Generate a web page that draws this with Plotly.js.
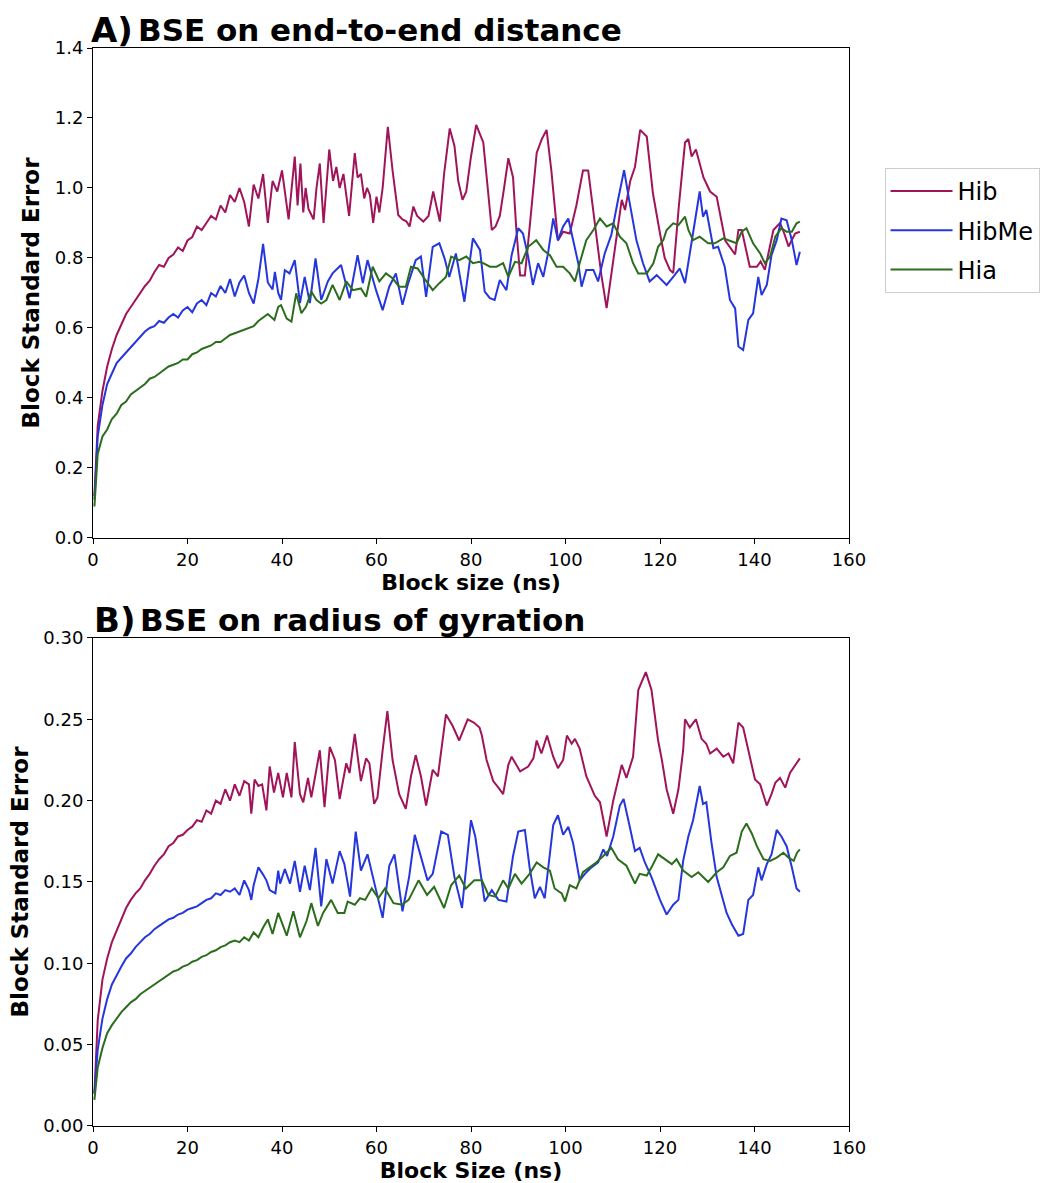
<!DOCTYPE html>
<html>
<head>
<meta charset="utf-8">
<script src="https://cdn.plot.ly/plotly-3.0.1.min.js"></script>
<style>html,body{margin:0;padding:0;background:#fff;}</style>
</head>
<body>
<div id="chart" style="width:1060px;height:1183px;"></div>
<script>
// ---- Data (block size in ns, block standard error) ----
const seriesNames = ["Hib", "HibMe", "Hia"];
const xTickVals = [0, 20, 40, 60, 80, 100, 120, 140, 160];

// Panel A: BSE on end-to-end distance
const hibA = [[0.3,0.12],[1,0.32],[2,0.42],[3,0.49],[4,0.54],[5,0.58],[6,0.61],[7,0.64],[8,0.66],[9,0.68],[10,0.70],[11,0.72],[12,0.735],[13,0.76],[14,0.78],[15,0.775],[16,0.80],[17,0.81],[18,0.83],[19,0.82],[20,0.85],[21,0.86],[22,0.89],[23,0.88],[24,0.90],[25,0.92],[26,0.91],[27,0.95],[28,0.93],[29,0.98],[30,0.96],[31,1.0],[32,0.96],[33,0.89],[34,1.01],[35,0.97],[36,1.04],[37,0.90],[38,1.02],[39,0.99],[40,1.05],[41.4,0.91],[42.7,1.09],[43.3,0.95],[43.9,1.07],[44.5,0.93],[45,1.0],[45.6,0.94],[46.7,0.91],[47.3,1.0],[48,1.07],[48.8,0.90],[50,1.11],[50.8,1.02],[51.5,1.06],[52.2,1.00],[53,1.04],[54.2,0.92],[55.4,1.10],[56,1.03],[56.7,1.04],[57.4,0.97],[58,1.0],[58.6,0.98],[59.3,0.90],[60,0.975],[60.6,0.93],[61.3,1.0],[62.4,1.175],[63.4,1.05],[64.6,0.923],[65.5,0.91],[66.3,0.905],[67,0.89],[67.8,0.947],[68.6,0.92],[69.9,0.904],[71,0.92],[72,0.99],[72.7,0.95],[73.4,0.904],[74.3,1.04],[75.5,1.17],[76.5,1.12],[77.3,1.02],[78.2,0.966],[79,0.99],[80,1.09],[81.1,1.18],[82.6,1.13],[83.5,1.0],[84.4,0.88],[85.2,0.89],[86.1,0.92],[87,1.0],[87.9,1.085],[88.9,1.03],[89.6,0.88],[90.4,0.75],[91.4,0.75],[92.5,0.9],[93.9,1.10],[95,1.14],[96,1.166],[97,1.05],[98.4,0.85],[99.5,0.875],[100.9,0.87],[102.3,0.95],[103.7,1.05],[104.8,1.05],[105.7,0.95],[106.6,0.85],[107.6,0.75],[108.7,0.657],[109.8,0.76],[110.8,0.85],[111.9,0.966],[112.6,0.937],[113.7,1.02],[114.7,1.06],[115.8,1.166],[117.2,1.147],[117.8,1.08],[118.5,0.985],[120,0.87],[121,0.80],[122.1,0.766],[122.8,0.757],[124,0.95],[125.3,1.13],[126,1.14],[126.7,1.09],[127.6,1.11],[129.2,1.03],[130.6,0.99],[132,0.975],[133.8,0.85],[135.9,0.81],[136.6,0.88],[137.3,0.88],[139,0.775],[140.5,0.775],[141.3,0.79],[142.2,0.766],[144,0.88],[145.4,0.90],[146.3,0.87],[147.2,0.833],[148.6,0.87],[149.6,0.875]];

const hibMeA = [[0.3,0.11],[1,0.29],[2,0.38],[3,0.44],[4,0.47],[5,0.50],[6,0.515],[7,0.53],[8,0.545],[9,0.56],[10,0.575],[11,0.59],[12,0.60],[13,0.605],[14,0.62],[15,0.615],[16,0.63],[17,0.64],[18,0.63],[19,0.65],[20,0.66],[21,0.645],[22,0.67],[23,0.68],[24,0.665],[25,0.70],[26,0.69],[27,0.72],[28,0.70],[29,0.74],[30,0.69],[31,0.73],[32,0.75],[33,0.70],[34,0.67],[35,0.74],[36,0.84],[37,0.73],[38,0.71],[38.5,0.76],[39.2,0.70],[39.8,0.68],[40.6,0.765],[41.6,0.756],[42.7,0.794],[43.8,0.671],[44.8,0.746],[45.9,0.671],[47.1,0.799],[48.3,0.68],[49.7,0.733],[50.7,0.756],[52.5,0.78],[54.3,0.685],[56,0.808],[57.1,0.728],[58.1,0.794],[59.9,0.708],[61.3,0.651],[62.7,0.718],[64.1,0.756],[65.5,0.666],[66.6,0.723],[68.3,0.794],[69.4,0.804],[70.5,0.689],[71.9,0.832],[73.3,0.842],[74.4,0.799],[75.4,0.746],[76.8,0.813],[78.6,0.675],[80.4,0.856],[81.9,0.823],[82.9,0.704],[84,0.685],[85,0.68],[86.1,0.737],[87.5,0.708],[88.6,0.808],[90,0.885],[91,0.87],[92.1,0.804],[93.1,0.723],[94.2,0.785],[95.3,0.746],[96.3,0.813],[97.4,0.913],[98.4,0.851],[99.5,0.89],[100.6,0.913],[101.6,0.851],[102.7,0.785],[103.4,0.718],[104.4,0.766],[105.9,0.766],[106.9,0.733],[108.3,0.813],[109.7,0.866],[111.1,0.965],[112.4,1.051],[113.6,0.956],[115,0.851],[116.4,0.785],[117.8,0.733],[119.3,0.751],[120.7,0.733],[121.4,0.723],[122.8,0.746],[124.2,0.77],[125.3,0.728],[126.7,0.851],[128.4,0.99],[129.1,0.918],[129.8,0.937],[131.3,0.828],[132.3,0.832],[133.7,0.775],[134.8,0.68],[135.9,0.656],[136.6,0.547],[137.6,0.537],[138.7,0.623],[139.7,0.642],[140.8,0.746],[141.5,0.694],[142.6,0.723],[143.6,0.808],[144.7,0.851],[145.7,0.913],[146.8,0.908],[147.9,0.851],[148.9,0.78],[149.6,0.818]];

const hiaA = [[0.3,0.09],[1,0.24],[2,0.29],[3,0.31],[4,0.34],[5,0.355],[6,0.38],[7,0.39],[8,0.41],[9,0.42],[10,0.43],[11,0.44],[12,0.455],[13,0.46],[14,0.47],[15,0.48],[16,0.49],[17,0.495],[18,0.50],[19,0.51],[20,0.51],[21,0.525],[22,0.53],[23,0.54],[24,0.545],[25,0.55],[26,0.56],[27,0.56],[28,0.57],[29,0.58],[30,0.585],[31,0.59],[32,0.595],[33,0.60],[34,0.605],[35,0.62],[36,0.63],[37,0.64],[38.4,0.623],[39.2,0.66],[39.8,0.665],[41,0.627],[42,0.618],[43,0.699],[44.1,0.642],[45.1,0.661],[46.2,0.704],[47.3,0.68],[48.3,0.67],[49.4,0.68],[50.7,0.723],[52.2,0.68],[53.6,0.733],[55,0.708],[56.7,0.713],[57.8,0.689],[59.2,0.775],[60.6,0.733],[62,0.756],[63.4,0.742],[64.8,0.718],[66.2,0.718],[67.3,0.775],[68.7,0.77],[70.1,0.742],[71.9,0.708],[73.3,0.728],[74.7,0.746],[75.8,0.804],[77.5,0.794],[79,0.804],[80.4,0.785],[81.8,0.789],[82.6,0.785],[84,0.775],[85.4,0.775],[86.8,0.785],[87.9,0.746],[89.3,0.789],[90.7,0.785],[92.1,0.832],[93.8,0.851],[95.3,0.823],[96.7,0.808],[98.1,0.775],[99.5,0.775],[100.9,0.756],[102,0.733],[103,0.785],[104.4,0.851],[105.9,0.88],[107.3,0.913],[108.7,0.89],[110.1,0.899],[111.5,0.861],[112.9,0.842],[114.3,0.785],[115.4,0.756],[117.2,0.756],[118.6,0.785],[119.6,0.832],[120.7,0.851],[121.4,0.88],[122.8,0.899],[123.9,0.894],[125.3,0.918],[126,0.88],[127,0.851],[128.4,0.861],[130.2,0.842],[131.6,0.842],[133.4,0.856],[135.2,0.847],[136.2,0.842],[137.3,0.875],[138.3,0.885],[139.7,0.842],[141.2,0.813],[142.2,0.785],[143.3,0.804],[144.4,0.861],[145.7,0.885],[146.8,0.875],[147.9,0.875],[148.9,0.899],[149.6,0.904]];

// Panel B: BSE on radius of gyration
const hibB = [[0.3,0.02],[1,0.065],[2,0.09],[3,0.103],[4,0.113],[5,0.12],[6,0.128],[7,0.134],[8,0.139],[9,0.143],[10,0.146],[11,0.151],[12,0.155],[13,0.160],[14,0.164],[15,0.167],[16,0.172],[17,0.174],[18,0.178],[19,0.179],[20,0.182],[21,0.184],[22,0.188],[23,0.187],[24,0.194],[25,0.192],[26,0.20],[27,0.198],[28,0.207],[29,0.20],[30,0.21],[31,0.203],[32,0.212],[33,0.21],[33.5,0.192],[34.2,0.213],[35,0.209],[35.8,0.21],[36.7,0.194],[37.4,0.221],[38.3,0.205],[39.2,0.217],[40.2,0.202],[41,0.217],[42,0.202],[42.7,0.236],[43.8,0.204],[44.5,0.199],[45.5,0.214],[46.2,0.202],[46.9,0.213],[48,0.231],[49,0.196],[50.1,0.233],[51.2,0.225],[52.2,0.201],[53.6,0.223],[54.3,0.217],[55.4,0.241],[56.7,0.212],[57.8,0.226],[58.5,0.223],[59.5,0.198],[60.2,0.202],[61.3,0.231],[62.3,0.255],[63.4,0.225],[64.8,0.204],[66.2,0.195],[67.3,0.215],[68.3,0.228],[69.4,0.215],[70.5,0.197],[71.9,0.219],[73,0.215],[74.7,0.253],[76.1,0.246],[77.5,0.237],[79.3,0.250],[80.6,0.248],[81.8,0.245],[82.3,0.240],[83.3,0.225],[84.7,0.212],[85.8,0.208],[86.8,0.204],[87.9,0.222],[88.6,0.227],[90.4,0.218],[92.1,0.221],[93.2,0.226],[93.9,0.237],[94.9,0.229],[96.1,0.240],[97.4,0.227],[98.4,0.220],[99.5,0.225],[100.3,0.240],[101.3,0.235],[102,0.238],[103,0.232],[104.4,0.215],[106.2,0.203],[107.3,0.199],[108.7,0.178],[110.1,0.200],[111.9,0.222],[112.9,0.214],[114.3,0.227],[115.4,0.268],[117,0.279],[118.2,0.268],[119.6,0.237],[120.4,0.225],[121.4,0.207],[122.8,0.192],[123.9,0.207],[124.9,0.231],[125.3,0.250],[126.3,0.245],[127.6,0.250],[128.8,0.238],[129.8,0.235],[130.6,0.229],[132,0.232],[133.4,0.227],[134.5,0.229],[135.5,0.223],[136.6,0.248],[137.6,0.245],[138.7,0.231],[140.1,0.213],[141.2,0.210],[142.6,0.197],[143.6,0.204],[144.4,0.211],[145.4,0.214],[146.5,0.208],[147.5,0.217],[149,0.223],[149.6,0.226]];

const hibMeB = [[0.3,0.02],[1,0.047],[2,0.066],[3,0.078],[4,0.087],[5,0.093],[6,0.098],[7,0.103],[8,0.106],[9,0.110],[10,0.113],[11,0.116],[12,0.118],[13,0.121],[14,0.123],[15,0.125],[16,0.127],[17,0.128],[18,0.130],[19,0.131],[20,0.133],[21,0.134],[22,0.135],[23,0.137],[24,0.139],[25,0.140],[26,0.143],[27,0.142],[28,0.145],[29,0.144],[30,0.146],[31,0.142],[32,0.151],[33,0.145],[33.5,0.139],[34,0.148],[35,0.159],[35.9,0.155],[36.7,0.151],[37.4,0.145],[38.6,0.143],[39.2,0.157],[39.6,0.149],[40.6,0.158],[41.7,0.149],[42.7,0.163],[43.8,0.144],[44.8,0.160],[45.9,0.145],[47.1,0.171],[48.3,0.135],[49.4,0.164],[50.7,0.149],[52.2,0.169],[53.2,0.161],[54.4,0.141],[55.6,0.181],[56.7,0.157],[58.1,0.167],[59.9,0.145],[61.3,0.128],[62.7,0.160],[63.8,0.167],[65.5,0.132],[66.9,0.153],[68.1,0.179],[69,0.170],[70.8,0.151],[71.9,0.155],[73.7,0.181],[75.1,0.179],[76.5,0.153],[78.1,0.134],[80,0.188],[80.9,0.178],[81.9,0.159],[82.9,0.138],[84.4,0.145],[85.8,0.139],[87.5,0.138],[88.9,0.166],[90,0.181],[91.4,0.182],[92.4,0.159],[93.5,0.140],[94.6,0.147],[95.6,0.140],[97.4,0.185],[98.4,0.191],[99.5,0.179],[100.6,0.184],[101.6,0.174],[103,0.151],[104.1,0.155],[105.5,0.159],[106.9,0.162],[108,0.170],[108.8,0.166],[110.1,0.178],[111.5,0.197],[112.3,0.201],[113.6,0.184],[114.7,0.169],[115.7,0.171],[116.8,0.162],[118.2,0.153],[120,0.139],[121.4,0.130],[122.8,0.136],[123.9,0.139],[124.9,0.163],[126,0.178],[127,0.188],[128.4,0.209],[129.1,0.198],[129.8,0.199],[130.9,0.174],[132,0.153],[133,0.143],[134.1,0.131],[135.2,0.124],[136.6,0.117],[137.6,0.118],[138.7,0.139],[139.7,0.142],[140.8,0.159],[141.5,0.151],[142.6,0.161],[143.6,0.167],[144.7,0.182],[145.7,0.178],[146.8,0.172],[147.9,0.159],[148.9,0.146],[149.6,0.144]];

const hiaB = [[0.3,0.016],[1,0.036],[2,0.048],[3,0.057],[4,0.062],[5,0.066],[6,0.070],[7,0.073],[8,0.076],[9,0.078],[10,0.081],[11,0.083],[12,0.085],[13,0.087],[14,0.089],[15,0.091],[16,0.093],[17,0.095],[18,0.096],[19,0.098],[20,0.099],[21,0.101],[22,0.102],[23,0.104],[24,0.105],[25,0.107],[26,0.108],[27,0.110],[28,0.111],[29,0.113],[30,0.114],[31,0.113],[32,0.116],[33,0.114],[34,0.119],[35,0.116],[36,0.122],[37,0.127],[38,0.118],[39.2,0.131],[39.6,0.128],[41,0.117],[42.4,0.132],[43.8,0.116],[45.2,0.126],[46.2,0.137],[47.6,0.123],[48.7,0.131],[50.4,0.139],[51.8,0.131],[53.2,0.131],[53.9,0.138],[55.4,0.136],[56.5,0.140],[57.6,0.139],[59,0.146],[60.4,0.140],[61.8,0.146],[63.6,0.137],[65.4,0.136],[66.8,0.139],[68.9,0.151],[70.7,0.142],[72.2,0.147],[74.3,0.134],[75.8,0.148],[77.5,0.154],[78.9,0.146],[80.7,0.151],[82.3,0.151],[83.7,0.142],[85.1,0.141],[86.8,0.151],[87.9,0.146],[89.3,0.155],[90.7,0.149],[92.4,0.155],[93.9,0.162],[95.3,0.159],[96.7,0.157],[97.7,0.146],[99.2,0.143],[99.9,0.138],[100.9,0.148],[102.3,0.146],[103.7,0.156],[105.1,0.159],[106.5,0.162],[108,0.166],[109.7,0.171],[111.1,0.164],[112.9,0.160],[114.7,0.149],[115.7,0.155],[117.2,0.154],[118.2,0.159],[119.6,0.167],[121,0.164],[122.5,0.161],[123.5,0.164],[124.9,0.157],[126.7,0.153],[128.1,0.156],[130.2,0.150],[132,0.156],[133.4,0.159],[134.8,0.166],[136.2,0.168],[137.3,0.181],[138.3,0.186],[139.4,0.180],[140.5,0.172],[141.9,0.164],[143.3,0.163],[144.7,0.165],[146.1,0.168],[147.2,0.165],[148.3,0.163],[149,0.168],[149.6,0.170]];

const colors = ["#a0145a", "#2436dc", "#2b6d1d"];

// ---- Build traces ----
const FONT = "DejaVu Sans, Liberation Sans, sans-serif";
function mk(pairs, i, xa, ya, showLeg) {
  return {
    type: "scatter", mode: "lines",
    x: pairs.map(p => p[0]), y: pairs.map(p => p[1]),
    name: seriesNames[i], legendgroup: "g" + i, showlegend: showLeg,
    xaxis: xa, yaxis: ya,
    line: {color: colors[i], width: 2}
  };
}
const traces = [
  mk(hibA, 0, "x", "y", true), mk(hibMeA, 1, "x", "y", true), mk(hiaA, 2, "x", "y", true),
  mk(hibB, 0, "x2", "y2", false), mk(hibMeB, 1, "x2", "y2", false), mk(hiaB, 2, "x2", "y2", false)
];

function xAx(anchor, title) {
  return {
    domain: [0, 1], anchor: anchor, range: [0, 160], tickvals: xTickVals,
    ticks: "outside", ticklen: 5, tickwidth: 1, tickcolor: "#000",
    showline: true, mirror: true, linecolor: "#000", linewidth: 1,
    showgrid: false, zeroline: false, automargin: false,
    tickfont: {family: FONT, size: 18, color: "#000"},
    title: {text: "<b>" + title + "</b>", font: {family: FONT, size: 22, color: "#000"}, standoff: 5}
  };
}
function yAx(anchor, domain, range, dtick, fmt, standoff) {
  return {
    domain: domain, anchor: anchor, range: range, dtick: dtick, tick0: 0, tickformat: fmt,
    ticks: "outside", ticklen: 5, tickwidth: 1, tickcolor: "#000",
    showline: true, mirror: true, linecolor: "#000", linewidth: 1,
    showgrid: false, zeroline: false, automargin: false,
    tickfont: {family: FONT, size: 18, color: "#000"},
    title: {text: "<b>Block Standard Error</b>", font: {family: FONT, size: 23, color: "#000"}, standoff: standoff}
  };
}

const layout = {
  width: 1060, height: 1183,
  margin: {l: 93, r: 211, t: 48, b: 57},
  paper_bgcolor: "#fff", plot_bgcolor: "#fff",
  font: {family: FONT, color: "#000"},
  xaxis: xAx("y", "Block size (ns)"),
  yaxis: yAx("x", [0.5455, 1], [0, 1.4], 0.2, ".1f", 8),
  xaxis2: xAx("y2", "Block Size (ns)"),
  yaxis2: yAx("x2", [0, 0.4527], [0, 0.30], 0.05, ".2f", 8),
  showlegend: true,
  legend: {
    x: 1.047, y: 0.8887, xref: "paper", yref: "paper", xanchor: "left", yanchor: "top",
    bgcolor: "#fff", bordercolor: "#cccccc", borderwidth: 1,
    font: {family: FONT, size: 24, color: "#000"},
    traceorder: "grouped", tracegroupgap: 5, itemwidth: 62
  },
  annotations: [
    {xref: "x domain", yref: "y domain", x: 0, y: 1, xanchor: "left", yanchor: "bottom",
     text: "<b>A)</b>", showarrow: false, font: {family: FONT, size: 34, color: "#000"}, xshift: -4, yshift: -4},
    {xref: "x domain", yref: "y domain", x: 0, y: 1, xanchor: "left", yanchor: "bottom",
     text: "<b>BSE on end-to-end distance</b>", showarrow: false, font: {family: FONT, size: 31, color: "#000"}, xshift: 43, yshift: -2},
    {xref: "x2 domain", yref: "y2 domain", x: 0, y: 1, xanchor: "left", yanchor: "bottom",
     text: "<b>B)</b>", showarrow: false, font: {family: FONT, size: 34, color: "#000"}, xshift: -1, yshift: -4},
    {xref: "x2 domain", yref: "y2 domain", x: 0, y: 1, xanchor: "left", yanchor: "bottom",
     text: "<b>BSE on radius of gyration</b>", showarrow: false, font: {family: FONT, size: 31, color: "#000"}, xshift: 45, yshift: -2}
  ]
};

Plotly.newPlot("chart", traces, layout, {displayModeBar: false, staticPlot: true});
</script>
</body>
</html>
